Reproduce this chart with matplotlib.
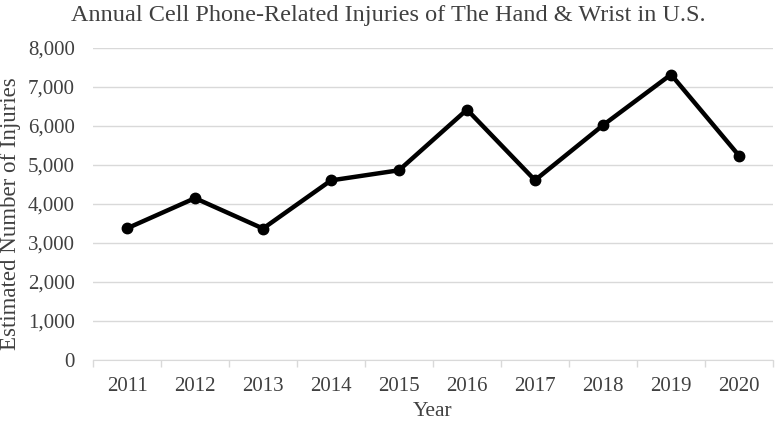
import numpy as np
import matplotlib
matplotlib.use("Agg")
from matplotlib import pyplot as plt
from matplotlib.ticker import FuncFormatter, MultipleLocator

years = ["2011", "2012", "2013", "2014", "2015", "2016", "2017", "2018", "2019", "2020"]
injuries = [3375, 4150, 3370, 4605, 4865, 6420, 4610, 6020, 7320, 5240]

plt.rcParams['font.family'] = ['Liberation Serif', 'DejaVu Serif']
txt = '#404040'
grid = '#d9d9d9'

fig = plt.figure(figsize=(7.77, 4.22), dpi=100)
ax = fig.add_axes([93/777, 1-360/422, (773-93)/777, (360-48)/422])

x = np.arange(len(years))
ax.plot(x, injuries, color='black', lw=3.2, marker='o', ms=7.5, zorder=3)

ax.set_xlim(-0.5, len(years)-0.5)
ax.set_ylim(0, 8000)
ax.yaxis.set_major_locator(MultipleLocator(1000))
ax.yaxis.set_major_formatter(FuncFormatter(lambda v, p: f"{int(v):,}"))
ax.set_xticks(x)
ax.set_xticklabels(years)
ax.set_xticks(np.arange(-0.5, len(years), 1), minor=True)
ax.tick_params(axis='x', which='major', length=0, pad=12, labelsize=15, labelcolor=txt)
ax.tick_params(axis='x', which='minor', length=5, color=grid, width=1)
ax.tick_params(axis='y', length=0, pad=13, labelsize=15, labelcolor=txt)
ax.grid(axis='y', color=grid, lw=1)
ax.set_axisbelow(True)
for s in ['top', 'right', 'left']:
    ax.spines[s].set_visible(False)
ax.spines['bottom'].set_color(grid)

ax.set_xlabel("Year", fontsize=15.5, color=txt, va='center')
ax.xaxis.set_label_coords(0.5, -(411-360)/312, transform=ax.transAxes)
ax.set_ylabel("Estimated Number of Injuries", fontsize=16.5, color=txt, va='center', ha='center')
ax.yaxis.set_label_coords(-(93-11)/680, (360-214)/312, transform=ax.transAxes)
fig.text(388/777, 1-15/422, "Annual Cell Phone-Related Injuries of The Hand & Wrist in U.S.",
         ha='center', va='center', fontsize=17.5, color=txt)

fig.savefig("out.png", dpi=100)
